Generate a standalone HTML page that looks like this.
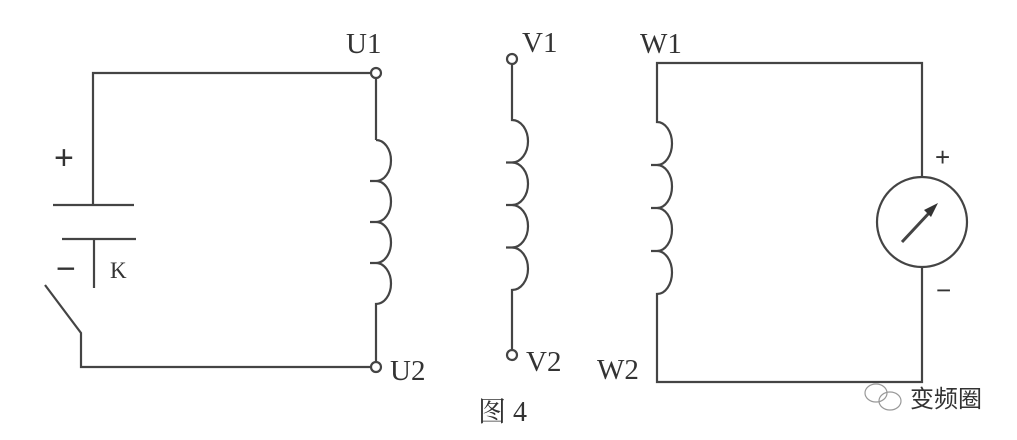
<!DOCTYPE html>
<html><head><meta charset="utf-8"><style>
html,body{margin:0;padding:0;background:#fff;}
svg{display:block;}
text{font-family:"Liberation Serif","Noto Serif CJK SC",serif;fill:#333;}
</style></head><body>
<svg width="1017" height="440" viewBox="0 0 1017 440" xmlns="http://www.w3.org/2000/svg">
<g stroke="#444" stroke-width="2.2" fill="none">
<polyline points="372,73 93,73 93,205"/>
<line x1="53" y1="205" x2="134" y2="205"/>
<line x1="62" y1="239" x2="136" y2="239"/>
<line x1="94" y1="239" x2="94" y2="288"/>
<polyline points="45,285 81,333 81,367 372,367"/>
<circle cx="376" cy="73" r="5"/>
<circle cx="376" cy="367" r="5"/>
<path d="M376,78 V140 M376,140 a15,20.5 0 0 1 0,41 a15,20.5 0 0 1 0,41 a15,20.5 0 0 1 0,41 a15,20.5 0 0 1 0,41 V362 M370,181 h6 M370,222 h6 M370,263 h6"/>
<circle cx="512" cy="59" r="5"/>
<circle cx="512" cy="355" r="5"/>
<path d="M512,64 V120 a16,21.25 0 0 1 0,42.5 a16,21.25 0 0 1 0,42.5 a16,21.25 0 0 1 0,42.5 a16,21.25 0 0 1 0,42.5 V350 M506,162.5 h6 M506,205 h6 M506,247.5 h6"/>
<path d="M922,177 V63 H657 V122 a15,21.5 0 0 1 0,43 a15,21.5 0 0 1 0,43 a15,21.5 0 0 1 0,43 a15,21.5 0 0 1 0,43 V382 H922 V267 M651,165 h6 M651,208 h6 M651,251 h6"/>
<circle cx="922" cy="222" r="45"/>
<line x1="902" y1="242" x2="930" y2="212" stroke-width="3"/>
</g>
<polygon points="938,203 924,210 931,217" fill="#333"/>
<g font-size="29">
<text x="346" y="53">U1</text>
<text x="390" y="380">U2</text>
<text x="522" y="52">V1</text>
<text x="526" y="371">V2</text>
<text x="640" y="53">W1</text>
<text x="597" y="379">W2</text>
</g>
<text x="54" y="169" style="font-family:'Liberation Sans',sans-serif;font-size:34px" fill="#444">+</text>
<text x="56" y="280" style="font-family:'Liberation Sans',sans-serif;font-size:34px" fill="#444">−</text>
<text x="935" y="166" style="font-family:'Liberation Sans',sans-serif;font-size:26px" fill="#444">+</text>
<text x="936" y="299" style="font-family:'Liberation Sans',sans-serif;font-size:26px" fill="#444">−</text>
<text x="110" y="278" font-size="23">K</text>
<text x="478" y="421" font-size="28">图 4</text>
<g stroke="#999" stroke-width="1.2" fill="none">
<ellipse cx="876" cy="393" rx="11" ry="9"/>
<ellipse cx="890" cy="401" rx="11" ry="9"/>
</g>
<text x="910" y="407" font-size="24" style="font-family:'Liberation Sans','Noto Sans CJK SC',sans-serif" fill="#555">变频圈</text>
</svg>
</body></html>
